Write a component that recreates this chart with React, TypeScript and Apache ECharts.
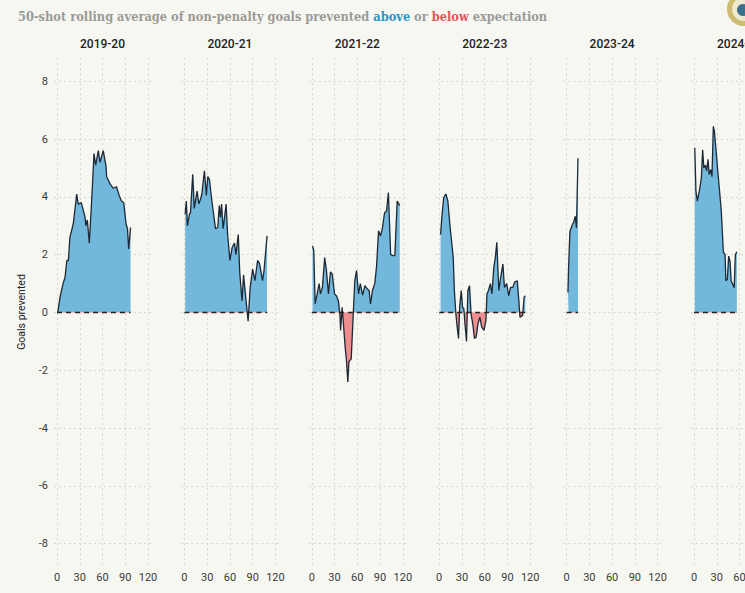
import React, { useEffect, useRef } from "react";
import * as echarts from "echarts";

const seasons = ["2019-20", "2020-21", "2021-22", "2022-23", "2023-24", "2024-25"];

const s1920: number[][] = [
  [1, 0], [4, 0.53], [8, 1.0], [10.5, 1.2], [13, 1.8], [15, 1.8], [17, 2.6], [21.5, 3.07], [26, 4.1], [28, 3.75],
  [32, 3.8], [37, 3.3], [38, 3.0], [40, 3.2], [42.6, 2.4], [45.7, 3.86], [48.8, 5.5], [51, 5.1], [54.5, 5.6], [56.7, 5.2],
  [61, 5.6], [64.6, 5.07], [65.5, 4.7], [70, 4.45], [74, 4.3], [78.5, 4.35], [82, 4.05], [85, 3.86], [88, 3.8], [91, 3.07],
  [93, 2.9], [94.5, 2.2], [97, 2.94],
];
const s2021: number[][] = [
  [1, 3.4], [2.5, 3.86], [4, 3.0], [6.6, 3.4], [8, 3.45], [11, 4.78], [13, 3.6], [16.7, 4.2], [19, 3.76], [21, 3.9],
  [23, 4.1], [26.4, 4.9], [29, 4.05], [30.8, 4.7], [33, 4.6], [36, 3.9], [41, 2.9], [44, 2.94], [46, 3.7], [47.5, 3.3],
  [49, 3.75], [51, 2.9], [53, 3.3], [55, 3.75], [57, 2.7], [60, 1.8], [63, 2.25], [66, 2.4], [68, 2.0], [71, 2.7],
  [73, 1.38], [76, 0.4], [78, 1.3], [81, 0.5], [84, -0.3], [86.7, 0.85], [90, 1.5], [93, 1.1], [96.5, 1.8], [99, 1.7],
  [103, 1.1], [105, 1.45], [109, 2.65],
];
const s2122: number[][] = [
  [1, 2.3], [2.6, 2.14], [4.4, 0.3], [7, 0.64], [9.7, 1.0], [11.4, 0.64], [14, 0.87], [17, 1.9], [19.3, 1.45], [22, 0.64],
  [24.6, 1.4], [27, 1.33], [30, 0.64], [32.5, 0.58], [35, 0.41], [37, -0.05], [38, -0.62], [40, 0.18], [42, -0.5], [44, -1.2],
  [45.7, -1.65], [47.5, -2.4], [49, -1.7], [52, -1.6], [54.5, -0.15], [56.7, 1.1], [59, 1.45], [61.6, 0.64], [64, 1.0], [67, 0.6],
  [70, 0.93], [73, 0.82], [75.6, 0.76], [77.4, 0.3], [80, 0.76], [83, 1.0], [85.3, 1.56], [88, 2.83], [90.6, 2.65], [93, 2.9],
  [96, 3.46], [98.5, 3.5], [101, 4.15], [104, 2.0], [107, 1.97], [109.5, 1.97], [112.6, 3.86], [116, 3.7],
];
const s2223: number[][] = [
  [1.8, 2.7], [3.5, 3.3], [6, 3.98], [8.8, 4.1], [11.4, 3.86], [14, 3.06], [16.7, 2.37], [18.5, 1.9], [20, 0.76], [22, -0.05],
  [23.7, -0.5], [25.5, -0.9], [27, 0.18], [29, 0.76], [30.8, 0.18], [32.5, 0.13], [34, -0.4], [36, -1.0], [37.8, 0.76], [40, 0.93],
  [42, -0.05], [44.3, -0.4], [46.5, -0.9], [48.7, -0.85], [51, -0.4], [53.6, -0.16], [56, -0.5], [59, -0.62], [61.6, -0.28], [63, 0.64],
  [65, 0.76], [67.5, 1.0], [69.6, 0.64], [72, 1.56], [74, 1.9], [76, 2.43], [78.6, 0.76], [81, 1.2], [84, 1.68], [86, 0.87],
  [89, 1.0], [91.6, 0.58], [94, 0.87], [97, 0.87], [99.5, 1.05], [103, 1.1], [105, 0.41], [106.5, -0.16], [110, -0.1], [112, 0.53],
  [113.6, 0.58],
];
const s2324: number[][] = [
  [1.8, 0.69], [2.6, 1.55], [4.4, 2.8], [7, 3.0], [9.7, 3.16], [11.4, 3.33], [13, 2.93], [15, 5.34],
];
const s2425: number[][] = [
  [1, 5.7], [2.6, 4.2], [4.4, 3.85], [7, 4.2], [9.7, 4.65], [11.4, 5.63], [13, 5.0], [15, 5.1], [16.7, 4.9], [18.5, 5.3],
  [20, 4.77], [22, 4.94], [23.7, 4.7], [25.5, 6.44], [27, 6.26], [29, 5.63], [31, 5.0], [33.4, 4.3], [36, 3.5], [38.7, 2.1],
  [41, 2.0], [42, 1.1], [44, 1.15], [45.7, 1.95], [47.5, 1.78], [49, 1.1], [51, 0.98], [53, 0.86], [54.5, 2.0], [56.5, 2.1],
];

const seasonData = [s1920, s2021, s2122, s2223, s2324, s2425];
const xMin = 0;
const xMax = 120;
const xStep = 30;
const yMin = -8;
const yMax = 8;
const yStep = 2;

const BG = "#f7f7f2";
const BLUE = "#72b8dc";
const RED = "#ef8d8f";
const LINE = "#1d2935";
const GRID = "#d6d6d0";
const LABEL = "#3a3a3a";

const PANEL_X0 = 57;
const PANEL_STEP = 127.4;
const X_PX = 91;
const ZERO_Y = 312.5;
const UNIT = 28.9;
const PAD = 0.8;

function buildOption() {
  const grid: any[] = [];
  const xAxis: any[] = [];
  const yAxis: any[] = [];
  const series: any[] = [];
  const lineIdx: number[] = [];
  const graphic: any[] = [];

  seasons.forEach((name, i) => {
    const x0 = PANEL_X0 + i * PANEL_STEP;
    grid.push({
      left: x0 - 3,
      top: ZERO_Y - yMax * UNIT,
      width: X_PX + 6,
      height: (yMax - yMin) * UNIT,
      outerBoundsMode: "none",
      containLabel: false,
    });
    grid.push({
      left: x0,
      top: ZERO_Y - (yMax + PAD) * UNIT,
      width: X_PX,
      height: (yMax - yMin + 2 * PAD) * UNIT,
      outerBoundsMode: "none",
      containLabel: false,
    });
    const ga = 2 * i;
    const gb = 2 * i + 1;
    xAxis.push({ gridIndex: ga, type: "value", min: 0, max: 1, show: false });
    yAxis.push({
      gridIndex: ga,
      type: "value",
      min: yMin,
      max: yMax,
      interval: yStep,
      axisLine: { show: false },
      axisTick: { show: false },
      axisLabel: {
        show: i === 0,
        color: LABEL,
        fontSize: 11,
        fontFamily: "Roboto",
        margin: 6,
      },
      splitLine: { show: true, lineStyle: { color: GRID, type: [2, 3], width: 1 } },
    });
    xAxis.push({
      gridIndex: gb,
      type: "value",
      min: xMin,
      max: xMax,
      interval: xStep,
      axisLine: { show: false },
      axisTick: { show: false },
      axisLabel: { color: LABEL, fontSize: 11, fontFamily: "Roboto", margin: 5 },
      splitLine: { show: true, lineStyle: { color: GRID, type: [2, 3], width: 1 } },
    });
    yAxis.push({ gridIndex: gb, type: "value", min: yMin - PAD, max: yMax + PAD, show: false });

    const data = seasonData[i];
    lineIdx.push(series.length);
    series.push({
      type: "line",
      xAxisIndex: gb,
      yAxisIndex: gb,
      data,
      symbol: "none",
      showSymbol: false,
      silent: true,
      lineStyle: { color: LINE, width: 1.3 },
      areaStyle: { opacity: 1 },
      z: 2,
    });
    series.push({
      type: "line",
      xAxisIndex: gb,
      yAxisIndex: gb,
      data: [
        [Math.min(0, data[0][0]), 0],
        [data[data.length - 1][0], 0],
      ],
      symbol: "none",
      silent: true,
      lineStyle: { color: "#222", width: 1.5, type: [5, 4] },
      z: 3,
    });

    graphic.push({
      type: "text",
      x: x0 + X_PX / 2,
      y: 44,
      style: {
        text: name,
        fill: "#222",
        font: "500 12px Roboto",
        align: "center",
        verticalAlign: "middle",
      },
    });
  });

  const subFont = "bold 12.7px 'DejaVu Serif Condensed', 'DejaVu Serif', serif";
  graphic.push({
    type: "text",
    x: 18,
    y: 16,
    style: {
      text: "{g|50-shot rolling average of non-penalty goals prevented }{a|above}{g| or }{b|below}{g| expectation}",
      verticalAlign: "middle",
      rich: {
        g: { fill: "#9a9a97", font: subFont },
        a: { fill: "#2a93c9", font: subFont },
        b: { fill: "#e2545f", font: subFont },
      },
    },
  });
  graphic.push({
    type: "text",
    x: 21,
    y: 312,
    rotation: Math.PI / 2,
    style: {
      text: "Goals prevented",
      fill: "#222",
      font: "10.5px Roboto",
      align: "center",
      verticalAlign: "middle",
    },
  });
  graphic.push({ type: "circle", shape: { cx: 744, cy: 9, r: 17 }, style: { fill: "#cdbb72" } });
  graphic.push({ type: "circle", shape: { cx: 744, cy: 9, r: 12 }, style: { fill: "#efe9cf" } });
  graphic.push({ type: "circle", shape: { cx: 743, cy: 10, r: 6 }, style: { fill: "#3d6f8e" } });

  return {
    animation: false,
    backgroundColor: BG,
    grid,
    xAxis,
    yAxis,
    series,
    graphic,
    visualMap: {
      show: false,
      type: "piecewise",
      dimension: 1,
      seriesIndex: lineIdx,
      pieces: [
        { gt: -50, lte: 0, color: RED },
        { gt: 0, lte: 50, color: BLUE },
      ],
    },
  };
}

export default function App() {
  const ref = useRef<HTMLDivElement>(null);
  useEffect(() => {
    if (!ref.current) return;
    const chart = echarts.init(ref.current, null, { renderer: "svg" });
    chart.setOption(buildOption() as any);
    return () => chart.dispose();
  }, []);
  return (
    <div
      ref={ref}
      style={{ position: "fixed", left: 0, top: 0, width: 745, height: 593, background: BG }}
    />
  );
}
